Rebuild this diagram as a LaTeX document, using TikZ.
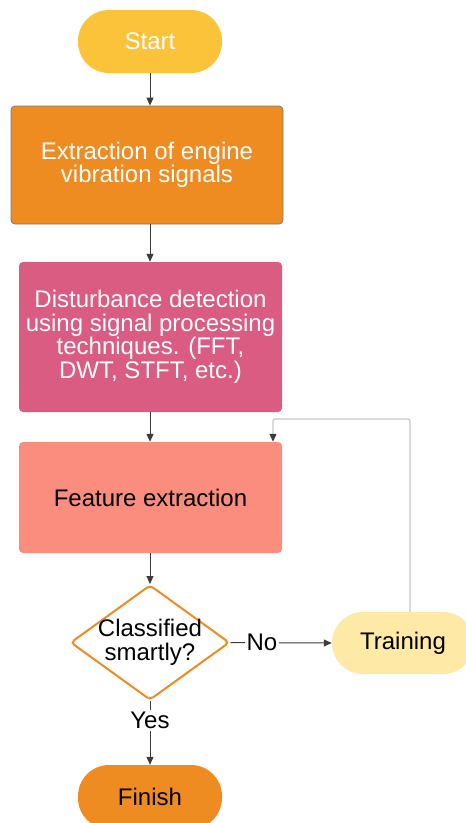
\documentclass[tikz,border=0pt]{standalone}
\usepackage{fontspec}
\setmainfont{Liberation Sans}
\usetikzlibrary{arrows.meta,shapes.geometric}

\definecolor{startyellow}{HTML}{FBC33A}
\definecolor{orangebox}{HTML}{EE8C22}
\definecolor{pinkbox}{HTML}{DB5C82}
\definecolor{salmonbox}{HTML}{FA8D7D}
\definecolor{paleyellow}{HTML}{FEE9A6}
\definecolor{arrowgray}{HTML}{3C3C3C}
\definecolor{loopgray}{HTML}{C8C8C8}
\definecolor{borderbox}{HTML}{7A7A7A}

\tikzset{
  every node/.style={font=\fontsize{24pt}{23.5pt}\selectfont, align=center},
  terminal/.style={rectangle, rounded corners=31pt, inner sep=0pt},
  procbox/.style={rectangle, rounded corners=4pt, inner sep=0pt},
  decision/.style={diamond, draw=orangebox, line width=2pt, fill=white,
    rounded corners=4pt, inner sep=0pt, minimum width=159pt, minimum height=115pt},
  flow/.style={draw=arrowgray, line width=1pt,
    -{Triangle[length=8pt,width=7pt]}},
  loopflow/.style={draw=loopgray, line width=1.2pt, rounded corners=2pt,
    -{Triangle[length=8pt,width=7pt,color=arrowgray]}},
  edgelabel/.style={fill=white, inner sep=2pt, text=black}
}

\begin{document}
\begin{tikzpicture}[x=1pt, y=-1pt]
  \useasboundingbox (0,0) rectangle (466,823);
  \clip (0,0) rectangle (466,823);

  % boxes of the flow
  \node[terminal, fill=startyellow, text=white, minimum width=144pt, minimum height=63pt]
    (start) at (150,41.5) {Start};
  \node[procbox, fill=orangebox, draw=borderbox, line width=0.8pt, text=white,
    minimum width=272pt, minimum height=118pt]
    (extract) at (147,165) {Extraction of engine\\vibration signals};
  \node[procbox, fill=pinkbox, text=white, minimum width=263pt, minimum height=150pt]
    (disturb) at (150.5,337) {Disturbance detection\\using signal processing\\techniques. (FFT,\\DWT, STFT, etc.)};
  \node[procbox, fill=salmonbox, text=black, minimum width=263pt, minimum height=111pt]
    (feature) at (150.5,497.5) {Feature extraction};
  \node[decision, label={[text=black, align=center]center:Classified\\smartly?}]
    (classify) at (150,642.5) {};
  \node[terminal, fill=paleyellow, text=black, minimum width=142pt, minimum height=62pt]
    (train) at (403,643) {Training};
  \node[terminal, fill=orangebox, text=black, minimum width=144pt, minimum height=64pt]
    (finish) at (150,797) {Finish};

  % main connectors
  \draw[flow] (start) -- (extract.north -| start);
  \draw[flow] (extract.south -| start) -- (disturb.north -| start);
  \draw[flow] (disturb.south -| start) -- (feature.north -| start);
  \draw[flow] (feature.south -| start) -- (classify);
  \draw[flow] (classify.east) -- node[edgelabel, pos=0.31] {No} (train.west);
  \draw[flow] (classify.south) -- node[edgelabel, pos=0.31] {Yes} (finish.north);

  % feedback from training back to feature extraction
  \coordinate (loopright) at (410,419);
  \coordinate (loopleft) at (273,419);
  \draw[loopflow] (train.north -| loopright) -- (loopright) -- (loopleft) -- (loopleft |- feature.north);
\end{tikzpicture}
\end{document}
